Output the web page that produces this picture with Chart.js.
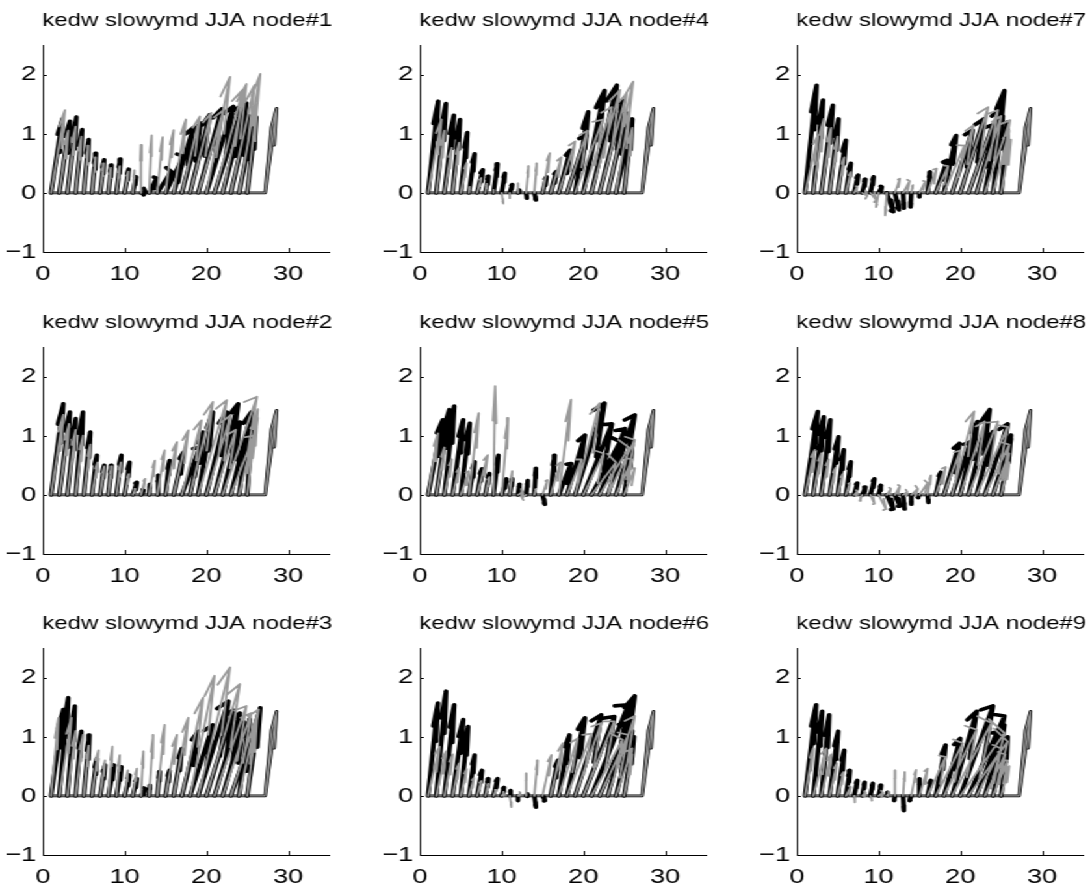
<!DOCTYPE html>
<html>
<head>
<meta charset="utf-8">
<title>kedw slowymd JJA</title>
<script src="https://cdn.jsdelivr.net/npm/chart.js@4.4.0/dist/chart.umd.min.js"></script>
<style>
  html, body { margin: 0; padding: 0; background: #fff; overflow: hidden; }
  /* figure is laid out narrow and widened, like the exported matlab figure */
  #fig { position: absolute; left: 0; top: 0; width: 870px; height: 891px;
         transform: scaleX(1.3); transform-origin: 0 0; }
  #fig canvas { position: absolute; }
</style>
</head>
<body>
<div id="fig"></div>
<script>
// arrow origins along y = 0
const origins = [1, 2, 3, 4, 5, 6, 7, 8, 9, 10, 11, 12, 13, 14, 15, 16, 17, 18, 19, 20, 21, 22, 23, 24, 25];
const xTicks = [0, 10, 20, 30];
const yTicks = [-1, 0, 1, 2];
// reference arrow at the end of the base line
const refOrigin = 27.2;
const refU = 1.4;
const refV = 1.43;

// node#1
const node1BlackU = [1.4, 1.3, 1.1, 0.8, 0.6, 0.5, 0.5, 0.4, 0.5, 0.5, 0.4, 0.5, 0.9, 1.7, 2.2, 2.4, 2.3, 2.4, 2.9, 3.3, 3.5, 2.9, 2.2, 1.6, 1.1];
const node1BlackV = [1.25, 1.21, 1.28, 1.07, 0.90, 0.67, 0.56, 0.47, 0.57, 0.40, 0.27, 0.03, 0.25, 0.36, 0.62, 1.10, 1.18, 1.32, 1.42, 1.46, 1.49, 1.52, 1.30, 1.10, 1.28];
const node1GrayU = [1.7, 1.1, 1.0, 0.7, 0.55, 0.45, 0.45, 0.3, 0.4, 0.45, 0.2, 0.0, 0.3, 0.65, 1.0, 1.5, 2.2, 2.6, 3.1, 2.9, 3.5, 2.9, 2.9, 2.6, 1.2];
const node1GrayV = [1.40, 1.05, 1.12, 0.95, 0.80, 0.60, 0.50, 0.42, 0.45, 0.36, 0.38, 0.81, 0.97, 0.94, 1.06, 1.24, 1.29, 1.35, 1.40, 1.96, 1.75, 1.84, 1.82, 2.01, 1.50];
// node#2
const node2BlackU = [1.5, 1.3, 1.0, 0.9, 0.8, 0.6, 0.5, 0.4, 0.6, 0.6, 0.5, 0.3, 0.1, 0.1, 0.5, 1.2, 2.2, 1.6, 1.8, 2.5, 2.9, 2.1, 2.5, 1.0, 0.6];
const node2BlackV = [1.54, 1.40, 1.29, 1.40, 1.06, 0.67, 0.50, 0.50, 0.67, 0.55, 0.21, 0.08, 0.18, 0.33, 0.58, 0.72, 0.81, 1.06, 1.40, 1.40, 1.54, 1.23, 1.40, 0.95, 1.20];
const node2GrayU = [1.5, 1.2, 1.0, 0.9, 0.8, 0.7, 0.5, 0.4, 0.55, 0.5, 0.3, 0.5, 0.7, 0.9, 1.4, 1.8, 2.4, 2.8, 3.5, 3.0, 2.6, 4.2, 2.8, 2.3, 1.3];
const node2GrayV = [1.35, 1.20, 1.10, 1.00, 0.85, 0.55, 0.48, 0.48, 0.55, 0.35, 0.10, 0.27, 0.58, 0.75, 0.89, 1.09, 1.26, 1.57, 1.60, 1.35, 1.10, 1.66, 1.00, 1.30, 1.45];
// node#3
const node3BlackU = [1.5, 1.1, 0.9, 0.7, 0.7, 0.6, 0.6, 0.7, 0.6, 0.6, 0.5, 0.5, 0.1, 0.3, 0.5, 1.0, 2.0, 2.8, 3.7, 3.3, 3.1, 2.6, 2.7, 1.3, 1.6];
const node3BlackV = [1.46, 1.66, 1.52, 1.09, 1.03, 0.63, 0.52, 0.52, 0.49, 0.35, 0.29, 0.12, 0.18, 0.41, 0.43, 0.80, 1.09, 1.20, 1.60, 1.45, 1.40, 1.25, 1.06, 1.30, 1.49];
const node3GrayU = [0.9, 1.5, 1.0, 0.9, 0.6, 0.8, 0.6, 0.5, 0.4, 0.4, 0.5, 0.3, 0.5, 0.9, 1.4, 1.8, 2.6, 3.0, 3.9, 4.1, 3.9, 3.5, 3.4, 1.8, 1.2];
const node3GrayV = [1.32, 1.32, 1.10, 1.03, 0.85, 0.77, 0.60, 0.83, 0.69, 0.43, 0.46, 0.75, 1.03, 1.20, 1.03, 1.32, 1.66, 2.03, 2.17, 1.89, 1.52, 1.40, 1.46, 1.10, 1.30];
// node#4
const node4BlackU = [1.24, 1.18, 1.16, 0.9, 0.8, 0.7, 0.7, 0.4, 0.5, 0.4, 0.3, 0.2, 0.1, 0.2, 0.5, 0.7, 1.4, 2.4, 1.6, 2.6, 3.1, 2.9, 2.3, 1.8, 1.0];
const node4BlackV = [1.55, 1.51, 1.31, 1.24, 1.02, 0.66, 0.39, 0.28, 0.49, 0.33, 0.14, 0.04, -0.09, -0.12, 0.27, 0.36, 0.72, 0.98, 1.37, 1.73, 1.82, 1.57, 1.35, 1.10, 1.25];
const node4GrayU = [1.65, 1.0, 0.9, 0.8, 0.7, 0.1, 0.5, 0.2, 0.0, 0.2, 0.0, 0.0, 0.3, 0.3, 0.9, 1.3, 2.0, 2.5, 3.4, 3.5, 3.5, 3.3, 3.1, 1.7, 1.0];
const node4GrayV = [1.24, 1.05, 0.76, 0.85, 0.50, 0.10, 0.25, 0.15, 0.05, -0.18, -0.09, 0.16, 0.45, 0.50, 0.67, 0.60, 0.87, 1.05, 1.24, 1.45, 1.74, 1.68, 1.88, 1.40, 1.10];
// node#5
const node5BlackU = [1.8, 1.6, 1.2, 1.3, 1.1, 0.7, 0.6, 0.5, 0.6, 0.6, 0.3, 0.2, 0.2, 0.2, 0.3, 0.5, 1.5, 2.2, 3.6, 3.5, 3.5, 3.1, 3.3, 1.5, 1.0];
const node5BlackV = [1.27, 1.44, 1.50, 1.27, 1.21, 0.56, 0.44, 0.36, 0.67, 0.27, 0.27, 0.18, 0.24, 0.45, -0.16, 0.67, 0.53, 1.01, 1.55, 1.20, 0.90, 1.12, 1.35, 0.70, 0.85];
const node5GrayU = [1.2, 1.0, 0.9, 0.8, 1.0, 1.2, 1.3, 0.5, 0.2, 0.8, 0.3, 0.6, -0.5, 0.2, 0.6, 1.2, 1.5, 1.8, 3.0, 2.5, 3.0, 3.6, 3.3, 2.0, 1.3];
const node5GrayV = [1.04, 0.80, 0.60, 0.45, 0.40, 1.38, 0.67, 0.30, 1.84, 1.30, 0.40, 0.05, -0.05, 0.10, 0.25, 0.55, 1.61, 0.60, 1.55, 0.70, 0.55, 0.80, 0.93, 0.60, 0.45];
// node#6
const node6BlackU = [1.2, 1.2, 1.2, 1.3, 0.9, 0.7, 0.6, 0.4, 0.5, 0.3, 0.1, 0.0, 0.2, 0.2, 0.3, 0.9, 1.3, 2.2, 3.2, 3.8, 4.5, 3.7, 3.3, 2.0, 1.2];
const node6BlackV = [1.57, 1.77, 1.54, 1.29, 1.17, 0.69, 0.43, 0.29, 0.29, 0.14, 0.09, -0.08, 0.02, -0.19, -0.08, 0.60, 1.03, 1.32, 1.37, 1.34, 1.54, 1.20, 1.69, 1.10, 1.00];
const node6GrayU = [1.4, 1.2, 1.0, 0.8, 0.7, 0.6, 0.5, 0.4, 0.3, 0.3, 0.2, 0.3, 0.0, 0.4, 1.1, 1.5, 2.3, 3.0, 3.2, 3.8, 3.8, 3.5, 3.3, 2.0, 1.0];
const node6GrayV = [0.83, 0.75, 0.70, 0.55, 0.45, 0.30, 0.25, 0.20, 0.10, 0.05, -0.19, 0.05, 0.38, 0.60, 0.69, 0.89, 0.97, 1.05, 1.23, 1.26, 0.95, 1.03, 1.35, 0.80, 0.70];
// node#7
const node7BlackU = [1.41, 1.2, 1.4, 1.1, 1.0, 0.6, 0.5, 0.4, 0.4, 0.4, 0.8, 0.5, 0.1, -0.1, 0.0, 0.3, 1.4, 1.5, 2.5, 2.9, 3.0, 3.0, 2.4, 1.2, 0.8];
const node7BlackV = [1.82, 1.57, 1.48, 1.25, 0.89, 0.50, 0.30, 0.23, 0.27, 0.10, -0.32, -0.29, -0.26, -0.24, -0.07, 0.35, 0.55, 0.97, 1.06, 1.25, 1.15, 1.45, 1.73, 1.30, 1.20];
const node7GrayU = [1.6, 1.3, 1.2, 1.0, 0.8, 0.6, 0.4, 0.6, 0.7, -0.3, -0.2, 0.6, 0.8, 0.2, 0.7, 1.1, 1.5, 2.5, 2.6, 3.4, 3.6, 3.0, 3.1, 2.0, 1.2];
const node7GrayV = [0.97, 1.25, 1.10, 0.95, 0.60, 0.35, 0.10, -0.05, -0.12, -0.24, -0.38, 0.24, 0.20, 0.13, 0.19, 0.41, 0.45, 0.80, 1.14, 1.45, 1.40, 1.30, 1.23, 1.05, 0.90];
// node#8
const node8BlackU = [1.57, 1.3, 1.1, 1.1, 0.75, 0.6, 0.4, 0.4, 0.5, 0.3, 0.8, 0.6, 0.2, 0.0, -0.2, 0.1, 0.6, 1.9, 2.3, 2.1, 2.6, 2.0, 2.8, 2.2, 1.2];
const node8BlackV = [1.41, 1.32, 1.27, 0.98, 0.76, 0.56, 0.20, 0.13, 0.27, 0.16, -0.24, -0.19, -0.24, -0.16, -0.04, -0.13, 0.38, 0.87, 0.90, 1.24, 1.44, 1.07, 1.20, 0.95, 1.01];
const node8GrayU = [1.2, 1.0, 0.9, 0.7, 0.6, 0.5, 0.4, -0.3, 0.5, 0.9, 0.5, 0.6, 0.5, 0.8, 1.0, 0.4, 1.2, 2.0, 2.7, 3.0, 3.6, 3.8, 3.0, 2.0, 1.0];
const node8GrayV = [0.76, 0.70, 0.60, 0.45, 0.35, 0.20, 0.05, -0.10, -0.15, -0.24, 0.10, 0.15, 0.05, 0.10, 0.20, 0.33, 0.47, 0.75, 1.41, 1.24, 1.24, 1.15, 0.85, 0.70, 0.55];
// node#9
const node9BlackU = [1.36, 1.1, 0.95, 1.05, 0.8, 0.5, 0.4, 0.3, 0.3, 0.3, 0.1, -0.1, 0.1, -0.2, 0.0, 0.4, 1.2, 2.0, 3.0, 4.0, 4.4, 3.0, 2.4, 1.5, 0.8];
const node9BlackV = [1.54, 1.43, 1.37, 1.09, 0.77, 0.43, 0.26, 0.23, 0.21, 0.18, 0.06, -0.08, -0.25, -0.08, 0.29, 0.26, 0.86, 0.97, 1.43, 1.52, 1.35, 1.10, 1.20, 0.90, 1.00];
const node9GrayU = [1.0, 1.6, 1.2, 0.9, 0.7, 0.6, 0.1, 0.4, 0.2, 0.5, 0.3, 0.0, 0.2, 0.6, 1.0, 2.2, 3.3, 4.0, 4.8, 5.4, 4.8, 3.0, 2.5, 1.8, 1.0];
const node9GrayV = [0.80, 0.80, 0.70, 0.55, 0.40, 0.15, -0.11, 0.05, -0.08, 0.05, 0.05, 0.43, 0.40, 0.44, 0.46, 0.66, 0.89, 1.12, 1.23, 1.06, 0.92, 0.80, 0.70, 0.60, 0.50];

const nodes = [
  [node1BlackU, node1BlackV, node1GrayU, node1GrayV],
  [node2BlackU, node2BlackV, node2GrayU, node2GrayV],
  [node3BlackU, node3BlackV, node3GrayU, node3GrayV],
  [node4BlackU, node4BlackV, node4GrayU, node4GrayV],
  [node5BlackU, node5BlackV, node5GrayU, node5GrayV],
  [node6BlackU, node6BlackV, node6GrayU, node6GrayV],
  [node7BlackU, node7BlackV, node7GrayU, node7GrayV],
  [node8BlackU, node8BlackV, node8GrayU, node8GrayV],
  [node9BlackU, node9BlackV, node9GrayU, node9GrayV],
];

const FONT = "'Liberation Sans', Arial, Helvetica, sans-serif";
const GRAY = "#999999";
const ALPHA = 0.33; // head length, as in quiver.m
const BETA = 0.33;  // head width
const EPS = 2.2e-16;

// shaft + head polylines, separated by gaps
function arrow(pts, x, y, u, v) {
  const tx = x + u, ty = y + v;
  pts.push({ x: tx - ALPHA * (u + BETA * (v + EPS)), y: ty - ALPHA * (v - BETA * (u + EPS)) });
  pts.push({ x: tx, y: ty });
  pts.push({ x: tx - ALPHA * (u - BETA * (v + EPS)), y: ty - ALPHA * (v + BETA * (u + EPS)) });
  pts.push({ x: tx, y: null });
  pts.push({ x: x, y: y });
  pts.push({ x: tx, y: ty });
  pts.push({ x: tx, y: null });
}

function quiver(us, vs) {
  const pts = [];
  origins.forEach((x, k) => arrow(pts, x, 0, us[k], vs[k]));
  return pts;
}

function refLine() {
  const pts = [{ x: origins[0], y: 0 }, { x: refOrigin, y: 0 }];
  arrow(pts, refOrigin, 0, refU, refV);
  return pts;
}

// ticks drawn inside the axes
const innerTicks = {
  id: "innerTicks",
  afterDatasetsDraw(chart) {
    const { ctx, chartArea, scales } = chart;
    ctx.save();
    ctx.strokeStyle = "#000";
    ctx.lineWidth = 1;
    ctx.beginPath();
    xTicks.forEach((t) => {
      const px = Math.round(scales.x.getPixelForValue(t)) + 0.5;
      ctx.moveTo(px, chartArea.bottom);
      ctx.lineTo(px, chartArea.bottom - 4);
    });
    yTicks.forEach((t) => {
      const py = Math.round(scales.y.getPixelForValue(t)) + 0.5;
      ctx.moveTo(chartArea.left, py);
      ctx.lineTo(chartArea.left + 3, py);
    });
    ctx.stroke();
    ctx.restore();
  },
};

// title sits over the middle of the data span, not the whole axis
const panelTitle = {
  id: "panelTitle",
  afterDraw(chart, args, opts) {
    const { ctx, chartArea } = chart;
    ctx.save();
    ctx.fillStyle = "#000";
    ctx.font = "18.5px " + FONT;
    ctx.textAlign = "center";
    ctx.textBaseline = "middle";
    ctx.fillText(opts.text, chartArea.left + 111, 21);
    ctx.restore();
  },
};

function line(data, color, width, order) {
  return {
    data: data, showLine: true, borderColor: color, borderWidth: width,
    pointRadius: 0, pointHoverRadius: 0, borderCapStyle: "round",
    borderJoinStyle: "round", spanGaps: false, tension: 0, order: order,
  };
}

const fig = document.getElementById("fig");
nodes.forEach((arrs, n) => {
  const col = Math.floor(n / 3), row = n % 3;
  const canvas = document.createElement("canvas");
  canvas.width = 290;
  canvas.height = 301;
  canvas.style.left = col * 290 + "px";
  canvas.style.top = row * 301.5 + "px";
  fig.appendChild(canvas);

  const ref = refLine();
  new Chart(canvas, {
    type: "scatter",
    data: {
      datasets: [
        line(quiver(arrs[2], arrs[3]), GRAY, 1.8, 1),
        line(quiver(arrs[0], arrs[1]), "#000", 3.6, 2),
        line(ref, GRAY, 1.2, 3),
        line(ref, "#000", 2.7, 4),
      ],
    },
    options: {
      responsive: false,
      animation: false,
      events: [],
      layout: { padding: { left: 0, right: 37, top: 45, bottom: 9 } },
      plugins: {
        legend: { display: false },
        tooltip: { enabled: false },
        title: { display: false },
        panelTitle: { text: "kedw slowymd JJA node#" + (n + 1) },
      },
      scales: {
        x: {
          type: "linear", min: 0, max: 35,
          afterBuildTicks: (s) => { s.ticks = xTicks.map((v) => ({ value: v })); },
          afterFit: (s) => { s.height = 40; },
          grid: { display: false, drawTicks: false },
          border: { display: true, color: "#000", width: 1 },
          ticks: { color: "#000", font: { family: FONT, size: 21 }, padding: 10, maxRotation: 0, autoSkip: false },
        },
        y: {
          type: "linear", min: -1, max: 2.5,
          afterBuildTicks: (s) => { s.ticks = yTicks.map((v) => ({ value: v })); },
          afterFit: (s) => { s.width = 33; },
          grid: { display: false, drawTicks: false },
          border: { display: true, color: "#000", width: 1 },
          ticks: {
            color: "#000", font: { family: FONT, size: 21 }, padding: 5,
            callback: (v) => (v < 0 ? "\u2212" + -v : String(v)),
          },
        },
      },
    },
    plugins: [innerTicks, panelTitle],
  });
});
</script>
</body>
</html>
